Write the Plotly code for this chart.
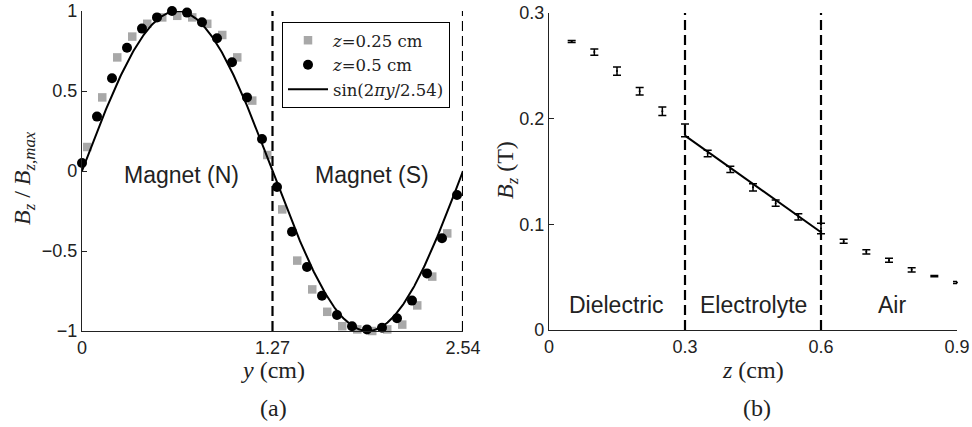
import numpy as np
import plotly.graph_objects as go

# ---------------- Panel (a) data ----------------
y_sq = [0.035, 0.135, 0.235, 0.335, 0.435, 0.535, 0.635, 0.735, 0.835, 0.935,
        1.035, 1.135, 1.235, 1.335, 1.435, 1.535, 1.635, 1.735, 1.835, 1.935,
        2.035, 2.135, 2.235, 2.335, 2.435, 2.545]
b_sq = [0.15, 0.46, 0.71, 0.84, 0.92, 0.96, 0.97, 0.96, 0.92, 0.85,
        0.71, 0.44, 0.10, -0.24, -0.56, -0.74, -0.88, -0.97, -0.99, -1.0,
        -0.99, -0.96, -0.84, -0.66, -0.39, 0.0]
y_ci = [0.0, 0.1, 0.2, 0.3, 0.4, 0.5, 0.6, 0.7, 0.8, 0.9, 1.0, 1.1, 1.2,
        1.3, 1.4, 1.5, 1.6, 1.7, 1.8, 1.9, 2.0, 2.1, 2.2, 2.3, 2.4, 2.5]
b_ci = [0.05, 0.34, 0.58, 0.77, 0.89, 0.96, 1.0, 0.99, 0.93, 0.83, 0.68, 0.46, 0.20,
        -0.10, -0.38, -0.60, -0.78, -0.90, -0.97, -0.99, -0.98, -0.92, -0.81, -0.64, -0.42, -0.15]
period = 2.54
bounds_a = [1.27, 2.54]
xticks_a = [0, 1.27, 2.54]
xticklabels_a = ["0", "1.27", "2.54"]
yticks_a = [-1, -0.5, 0, 0.5, 1]
regions_a = ["Magnet (N)", "Magnet (S)"]
regions_a_x = [0.66, 1.93]

# ---------------- Panel (b) data ----------------
z_b = [0.05, 0.10, 0.15, 0.20, 0.25, 0.30, 0.35, 0.40, 0.45, 0.50, 0.55, 0.60,
       0.65, 0.70, 0.75, 0.80, 0.85, 0.90]
bz_b = [0.273, 0.263, 0.245, 0.226, 0.207, 0.189, 0.167, 0.152, 0.135, 0.120, 0.107, 0.096,
        0.084, 0.074, 0.066, 0.057, 0.051, 0.045]
err_b = [0.001, 0.003, 0.004, 0.0035, 0.004, 0.006, 0.003, 0.003, 0.0035, 0.003, 0.003, 0.005,
         0.002, 0.002, 0.002, 0.002, 0.0006, 0.001]
fit_z = [0.3, 0.6]
fit_b = [0.184, 0.0925]
bounds_b = [0.3, 0.6]
xticks_b = [0, 0.3, 0.6, 0.9]
yticks_b = [0, 0.1, 0.2, 0.3]
regions_b = ["Dielectric", "Electrolyte", "Air"]
regions_b_x = [0.148, 0.45, 0.757]

W, H = 972, 427
SANS = "Liberation Sans, Arial, sans-serif"
SERIF = "Liberation Serif, Times New Roman, serif"
LSERIF = "DejaVu Serif, serif"

fig = go.Figure()

fig.add_trace(go.Scatter(x=y_sq, y=b_sq, mode="markers", name="<i>z</i>=0.25 cm",
                         marker=dict(symbol="square", size=8.5, color="#a8a8a8"),
                         cliponaxis=False, xaxis="x", yaxis="y"))
fig.add_trace(go.Scatter(x=y_ci, y=b_ci, mode="markers", name="<i>z</i>=0.5 cm",
                         marker=dict(symbol="circle", size=10, color="black"),
                         cliponaxis=False, xaxis="x", yaxis="y"))
yc = np.linspace(0, period, 400)
fig.add_trace(go.Scatter(x=yc, y=np.sin(2 * np.pi * yc / period), mode="lines",
                         name="sin(2<i>πy</i>/2.54)",
                         line=dict(color="black", width=2), xaxis="x", yaxis="y"))

fig.add_trace(go.Scatter(x=fit_z, y=fit_b, mode="lines", showlegend=False,
                         line=dict(color="black", width=2), xaxis="x2", yaxis="y2"))
fig.add_trace(go.Scatter(x=z_b, y=bz_b, mode="markers", showlegend=False,
                         marker=dict(size=2, color="black"),
                         error_y=dict(type="data", array=err_b, color="black",
                                      thickness=1.5, width=4),
                         cliponaxis=False, xaxis="x2", yaxis="y2"))

for b in bounds_a:
    fig.add_shape(type="line", xref="x", yref="y", x0=b, x1=b, y0=-1, y1=1,
                  line=dict(color="black", width=2.2, dash="10px,5px"))
for b in bounds_b:
    fig.add_shape(type="line", xref="x2", yref="y2", x0=b, x1=b, y0=0, y1=0.3,
                  line=dict(color="black", width=2.2, dash="10px,5px"))

for t, xv in zip(regions_a, regions_a_x):
    fig.add_annotation(x=xv, y=-0.025, xref="x", yref="y", text=t, showarrow=False,
                       xanchor="center", yanchor="middle",
                       font=dict(family=SANS, size=23, color="#222"))
for t, xv in zip(regions_b, regions_b_x):
    fig.add_annotation(x=xv, y=0.0236, xref="x2", yref="y2", text=t, showarrow=False,
                       xanchor="center", yanchor="middle",
                       font=dict(family=SANS, size=23, color="#222"))

def px(x):
    return x / W

def py(y):
    return 1 - y / H

titles = [
    (273, 370, "<i>y</i> (cm)", 0),
    (273, 408, "(a)", 0),
    (753, 370, "<i>z</i> (cm)", 0),
    (757, 408, "(b)", 0),
    (24, 178, "<i>B</i><sub><i>z</i></sub> / <i>B</i><sub><i>z,max</i></sub>", -90),
    (507, 170, "<i>B</i><sub><i>z</i></sub> (T)", -90),
]
for x, y, t, ang in titles:
    fig.add_annotation(x=px(x), y=py(y), xref="paper", yref="paper", text=t,
                       showarrow=False, textangle=ang, xanchor="center", yanchor="middle",
                       font=dict(family=SERIF, size=24, color="#222"))

axis_common = dict(showline=True, linecolor="#222", linewidth=1.2, ticks="inside",
                   ticklen=5, tickcolor="#222", showgrid=False, zeroline=False,
                   automargin=False, ticklabeloverflow="allow",
                   tickfont=dict(family=SANS, size=18, color="#222"), mirror=False)

fig.update_layout(
    width=W, height=H, margin=dict(l=0, r=0, t=0, b=0, autoexpand=False),
    paper_bgcolor="white", plot_bgcolor="white",
    xaxis=dict(domain=[px(82), px(463)], range=[0, 2.54], tickvals=xticks_a,
               ticktext=xticklabels_a, anchor="y", **axis_common),
    yaxis=dict(domain=[py(331), py(11)], range=[-1, 1], tickvals=yticks_a,
               anchor="x", **axis_common),
    xaxis2=dict(domain=[px(549), px(957)], range=[0, 0.9], tickvals=xticks_b,
                anchor="y2", **axis_common),
    yaxis2=dict(domain=[py(330), py(13)], range=[0, 0.3], tickvals=yticks_b,
                anchor="x2", **axis_common),
    legend=dict(x=px(282), y=py(22), xanchor="left", yanchor="top",
                bordercolor="black", borderwidth=1, bgcolor="white",
                font=dict(family=LSERIF, size=16.5, color="#222"),
                tracegroupgap=0, itemwidth=40),
    showlegend=True,
)

fig.write_html("out.html", config={"displayModeBar": False},
               post_script="document.body.style.margin='0';document.body.style.overflow='hidden';")
